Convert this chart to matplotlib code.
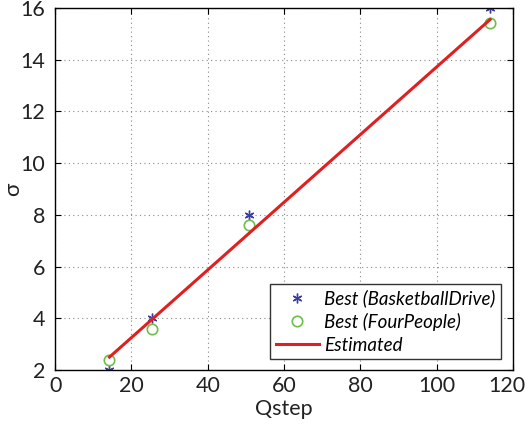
import numpy as np
import matplotlib
matplotlib.use("Agg")
import matplotlib.pyplot as plt
from matplotlib.transforms import ScaledTranslation

# data
qstep = [14.25, 25.4, 50.8, 114.0]
sigma_basketball = [2.0, 4.0, 8.0, 16.0]
sigma_fourpeople = [2.4, 3.6, 7.6, 15.4]
est_x = [14.25, 114.0]
est_y = [2.5, 15.55]

plt.rcParams['font.family'] = ['Lato', 'DejaVu Sans']

fig = plt.figure(figsize=(5.25, 4.3), dpi=100)
ax = fig.add_axes([0.105, 0.1395, 0.872, 0.842])

ax.plot(qstep, sigma_basketball, linestyle='none', marker=(6, 2, 0), markersize=7,
        markeredgewidth=1.0, color='#3a3fa0', label='Best (BasketballDrive)')
ax.plot(qstep, sigma_fourpeople, linestyle='none', marker='o', markersize=7.5,
        markerfacecolor='none', markeredgewidth=1.2, color='#6cc04a', label='Best (FourPeople)')
ax.plot(est_x, est_y, color='#e02020', linewidth=2.2, label='Estimated')

ax.set_xlim(0, 120)
ax.set_ylim(2, 16)
ax.set_xticks(np.arange(0, 121, 20))
ax.set_yticks(np.arange(2, 17, 2))
ax.grid(True, linestyle=(0, (1, 3)), color='#888888', linewidth=0.8)
ax.tick_params(direction='in', top=True, right=True, labelsize=15.5, length=4,
               labelcolor='#222222')
ax.tick_params(axis='y', pad=7)
ax.tick_params(axis='x', pad=4)
for s in ax.spines.values():
    s.set_linewidth(1.0)
ax.set_xlabel('Qstep', fontsize=15.5, color='#222222')
ax.set_ylabel('σ', fontsize=16, color='#222222')
ax.xaxis.set_label_coords(0.5, -0.08)
ax.yaxis.set_label_coords(-0.07, 0.5)

# the last x label sits a little left of its tick, as in the reference
fig.canvas.draw()
last = ax.get_xticklabels()[-1]
last.set_transform(last.get_transform() + ScaledTranslation(-6 / 100, 0, fig.dpi_scale_trans))

leg = ax.legend(loc='lower right', bbox_to_anchor=(0.975, 0.03), fancybox=False,
                edgecolor='#333333', framealpha=1, prop={'style': 'italic', 'size': 13.5},
                handlelength=2.3, handletextpad=0.3, borderpad=0.3, labelspacing=0.3,
                borderaxespad=0)
leg.get_frame().set_linewidth(1.0)

fig.savefig('out.png', dpi=100)
